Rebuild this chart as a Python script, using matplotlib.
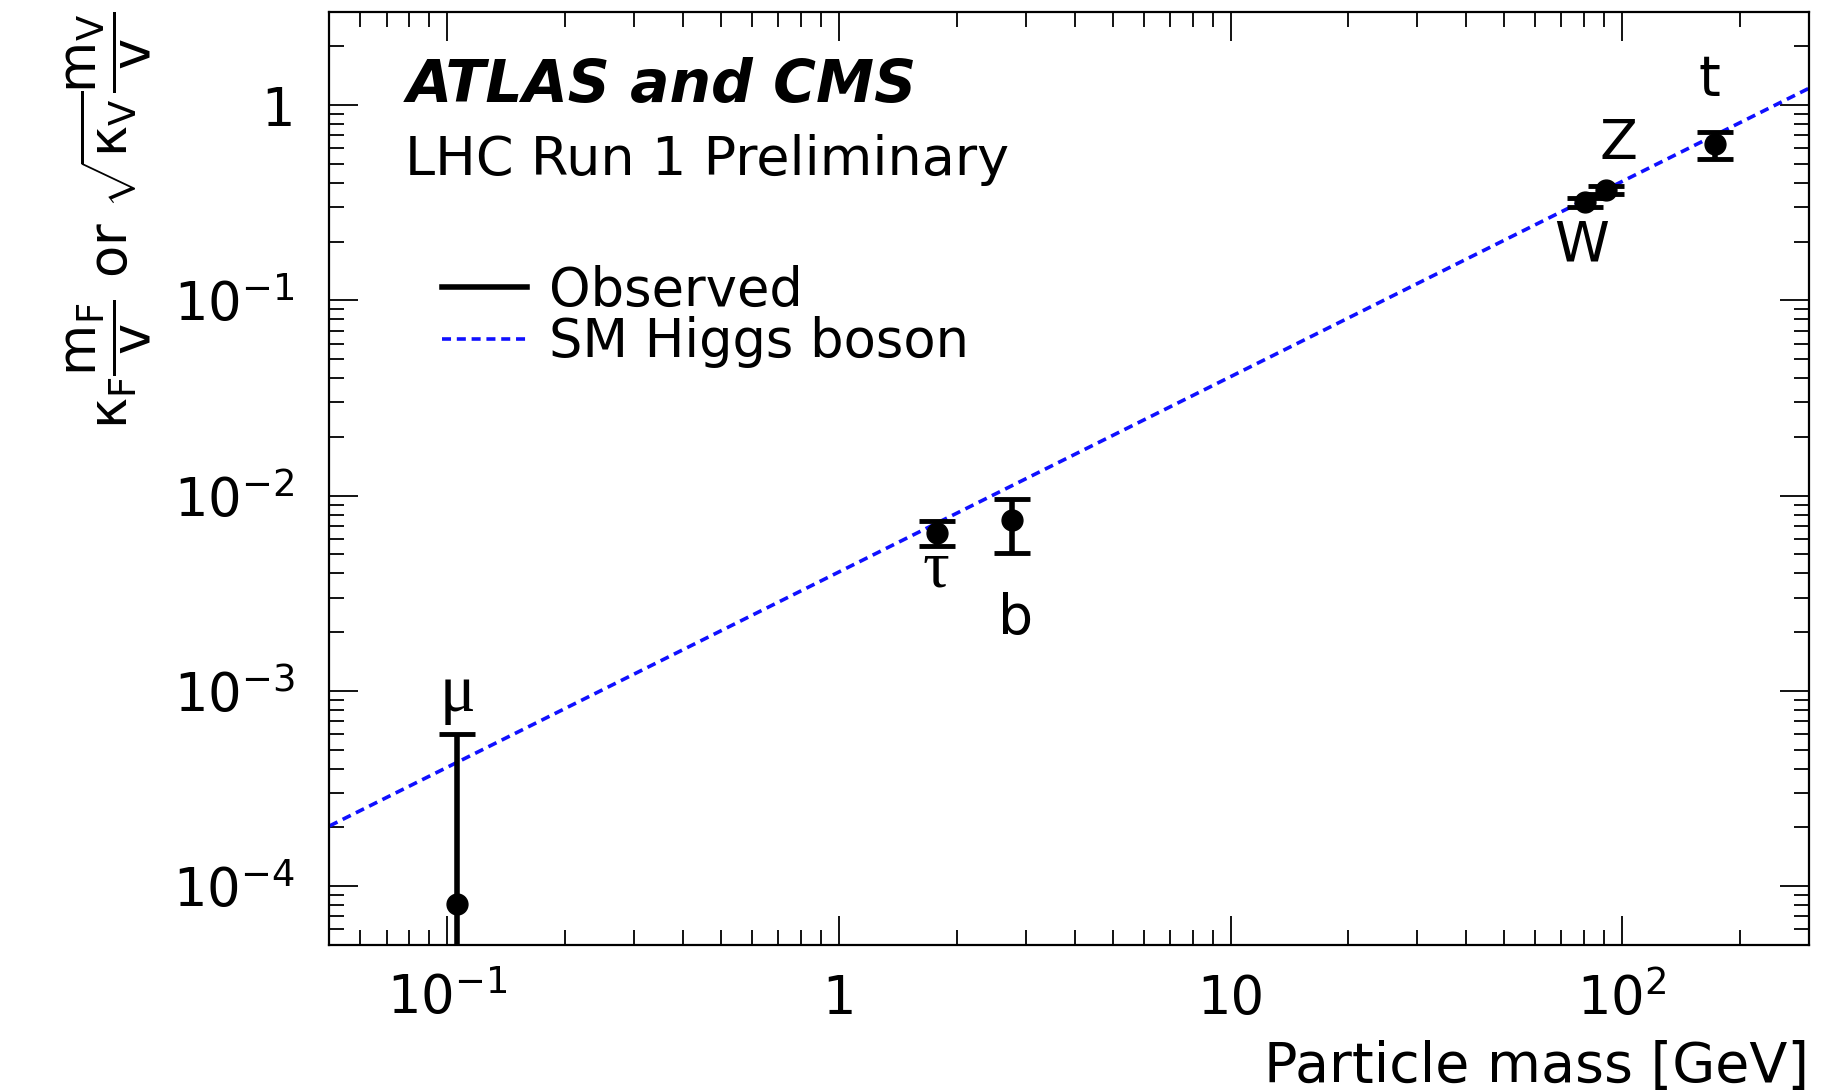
import numpy as np
import matplotlib
matplotlib.use("Agg")
import matplotlib.pyplot as plt
from matplotlib.ticker import LogLocator, NullFormatter

plt.rcParams['font.family'] = ['DejaVu Sans']
plt.rcParams['mathtext.fontset'] = 'custom'
plt.rcParams['mathtext.rm'] = 'DejaVu Sans'
plt.rcParams['mathtext.it'] = 'DejaVu Sans'
plt.rcParams['mathtext.bf'] = 'DejaVu Sans:bold'

# particle masses [GeV] and measured reduced couplings
particles = ["mu", "tau", "b", "W", "Z", "t"]
mass = np.array([0.1057, 1.777, 2.77, 80.4, 91.2, 173.0])
coupling = np.array([8.1e-5, 6.4e-3, 7.5e-3, 0.318, 0.368, 0.63])
err_lo = np.array([1.0e-5, 5.5e-3, 5.1e-3, 0.300, 0.350, 0.53])
err_hi = np.array([6.0e-4, 7.4e-3, 9.6e-3, 0.336, 0.386, 0.73])

# SM expectation (straight line in log-log) read at the frame edges
sm_x = [0.05, 300.0]
sm_y = [2.03e-4, 1.22]

# particle labels: text, x, y
labels = ["t", "Z", "W", "b"]
label_x = [167.0, 98.0, 79.0, 2.83]
label_y = [1.35, 0.635, 0.192, 2.33e-3]
greek = [r"τ", r"μ"]
greek_x = [1.77, 0.1063]
greek_y = [4.15e-3, 9.6e-4]


def make_plot():
    fig = plt.figure(figsize=(18.3, 10.91), dpi=100)
    ax = fig.add_axes([0.180, 0.134, 0.8085, 0.855])
    ax.set_xscale("log")
    ax.set_yscale("log")
    ax.set_xlim(0.05, 300)
    ax.set_ylim(5e-5, 3)

    ax.plot(sm_x, sm_y, color="#1010ff", lw=2.6, dashes=(2.5, 1.6),
            label="SM Higgs boson", zorder=2)

    yerr = [coupling - err_lo, err_hi - coupling]
    ax.errorbar(mass, coupling, yerr=yerr, fmt="o", color="black",
                ms=15, elinewidth=4, capsize=13, capthick=3.5, zorder=3)
    ax.plot([], [], color="black", lw=4, label="Observed")

    for t, x, y in zip(labels, label_x, label_y):
        ax.text(x, y, t, fontsize=40, ha="center", va="center")
    for t, x, y in zip(greek, greek_x, greek_y):
        ax.text(x, y, t, fontsize=48, ha="center", va="center",
                family=["Liberation Serif", "DejaVu Serif"])

    ax.text(0.052, 0.921, "ATLAS and CMS", transform=ax.transAxes,
            fontsize=42, fontweight="bold", fontstyle="italic", va="center")
    ax.text(0.051, 0.841, "LHC Run 1 Preliminary", transform=ax.transAxes,
            fontsize=39, va="center")

    handles, names = ax.get_legend_handles_labels()
    ax.legend(handles[::-1], names[::-1], loc="upper left",
              bbox_to_anchor=(0.062, 0.752), frameon=False, fontsize=38,
              handlelength=1.6, handletextpad=0.42, labelspacing=0.0,
              borderaxespad=0)

    ax.set_xlabel("Particle mass [GeV]", fontsize=40, loc="right", labelpad=10)
    ax.set_ylabel(r"$\kappa_{F}\dfrac{m_{F}}{v}$ or $\sqrt{\kappa_{V}}\dfrac{m_{V}}{v}$",
                  fontsize=38, loc="top", labelpad=14)

    ax.set_xticks([0.1, 1, 10, 100])
    ax.set_xticklabels([r"$10^{-1}$", "1", "10", r"$10^{2}$"])
    ax.set_yticks([1e-4, 1e-3, 1e-2, 1e-1, 1])
    ax.set_yticklabels([r"$10^{-4}$", r"$10^{-3}$", r"$10^{-2}$", r"$10^{-1}$", "1"])
    ax.xaxis.set_minor_locator(LogLocator(base=10, subs=np.arange(2, 10)))
    ax.yaxis.set_minor_locator(LogLocator(base=10, subs=np.arange(2, 10)))
    ax.xaxis.set_minor_formatter(NullFormatter())
    ax.yaxis.set_minor_formatter(NullFormatter())
    ax.tick_params(which="both", direction="in", top=True, right=True,
                   labelsize=38, width=1.3)
    ax.tick_params(which="major", length=21, pad=20)
    ax.tick_params(which="minor", length=11)
    ax.tick_params(axis="y", which="major", pad=25)
    for s in ax.spines.values():
        s.set_linewidth(1.6)

    fig.savefig("out.png", dpi=100)


def main():
    make_plot()


if __name__ == "__main__":
    main()
